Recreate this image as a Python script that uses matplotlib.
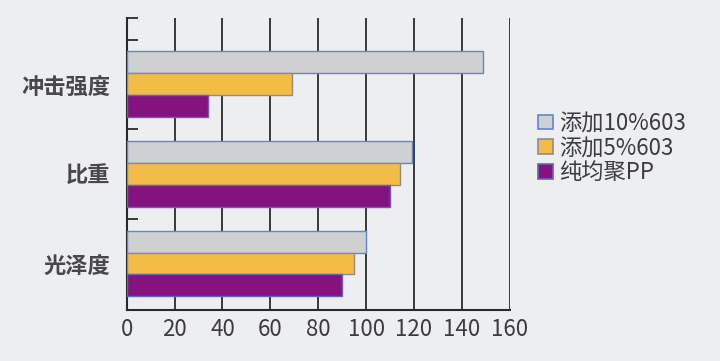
import numpy as np
import matplotlib.pyplot as plt
from matplotlib.patches import Patch

plt.rcParams['font.family'] = ['Noto Sans CJK SC', 'DejaVu Sans']

categories = ['冲击强度', '比重', '光泽度']
series_names = ['添加10%603', '添加5%603', '纯均聚PP']
add_10 = [149, 119, 100]
add_5 = [69, 114, 95]
pure_pp = [34, 110, 90]
x_ticks = [0, 20, 40, 60, 80, 100, 120, 140, 160]

colors = ['#cfd0d2', '#f3bd45', '#84137e']
edges = ['#5f86d0', '#8a8a9a', '#6a5fc0']
text_color = '#3c3c3e'
bg = '#edeef0'

fig = plt.figure(figsize=(7.2, 3.61), dpi=100, facecolor=bg)
ax = fig.add_axes([0.176, 0.141, 0.532, 0.809], facecolor=bg)

y = np.arange(len(categories))
h = 0.245
for i, vals in enumerate([add_10, add_5, pure_pp]):
    ax.barh(y + (i - 1) * h, vals, height=h, color=colors[i],
            edgecolor=edges[i], linewidth=1.0, zorder=3)

ax.set_xlim(0, 160)
ax.set_ylim(2.52, -0.74)
ax.set_xticks(x_ticks)
ax.set_xticklabels([str(t) for t in x_ticks])
ax.grid(axis='x', color='#2a2a2a', linewidth=1.3, zorder=1)
ax.set_axisbelow(True)

ax.set_yticks(y)
ax.set_yticklabels(categories, fontweight='bold')
ax.set_yticks([-0.74, -0.5, 0.5, 1.5], minor=True)
ax.tick_params(axis='y', which='major', length=0, pad=12, labelsize=16,
               labelcolor='#48484a')
ax.tick_params(axis='y', which='minor', direction='in', length=8,
               width=1.3, color='#2a2a2a')
ax.tick_params(axis='x', length=0, pad=6, labelsize=16, labelcolor=text_color)

for s in ['top', 'right']:
    ax.spines[s].set_visible(False)
for s in ['left', 'bottom']:
    ax.spines[s].set_color('#2a2a2a')
    ax.spines[s].set_linewidth(1.5)

handles = [Patch(facecolor=colors[i], edgecolor=edges[i], linewidth=1.2)
           for i in range(3)]
fig.legend(handles, series_names, loc='center left',
           bbox_to_anchor=(0.72, 0.59), frameon=False, fontsize=16,
           handlelength=0.65, handleheight=0.65, handletextpad=0.3,
           labelspacing=0.08, labelcolor=text_color)

fig.savefig('out.png', dpi=100, facecolor=bg)
